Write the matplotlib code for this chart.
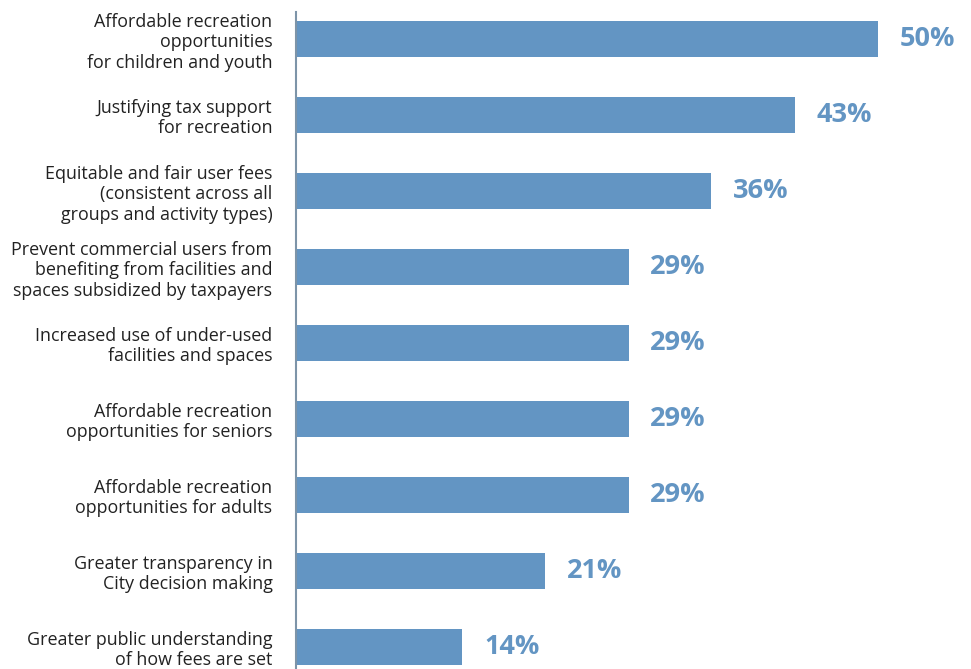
import matplotlib.pyplot as plt

plt.rcParams['font.family'] = ['Open Sans', 'DejaVu Sans']

labels = [
    "Affordable recreation\nopportunities\nfor children and youth",
    "Justifying tax support\nfor recreation",
    "Equitable and fair user fees\n(consistent across all\ngroups and activity types)",
    "Prevent commercial users from\nbenefiting from facilities and\nspaces subsidized by taxpayers",
    "Increased use of under-used\nfacilities and spaces",
    "Affordable recreation\nopportunities for seniors",
    "Affordable recreation\nopportunities for adults",
    "Greater transparency in\nCity decision making",
    "Greater public understanding\nof how fees are set",
]
values = [50.0, 42.9, 35.7, 28.6, 28.6, 28.6, 28.6, 21.4, 14.3]

bar_color = '#6395c3'
W, H = 971, 669

fig = plt.figure(figsize=(W / 100, H / 100), dpi=100)
ax = fig.add_axes([296 / W, 0, 1 - 296 / W, 1 - 12 / H])

pos = list(range(len(values)))
ax.barh(pos, values, height=0.47, color=bar_color)

for y, v in zip(pos, values):
    ax.text(v + 1.85, y, f"{v:.0f}%", va='center', ha='left',
            fontsize=19.5, fontweight='bold', color=bar_color)

ax.set_yticks(pos)
ax.set_yticklabels(labels, fontsize=12.9, color='#222222', linespacing=1.18)
ax.tick_params(axis='y', length=0, pad=17)
ax.set_xticks([])
ax.set_xlim(0, 58)
ax.set_ylim(8.29, -0.355)

for side in ['top', 'right', 'bottom']:
    ax.spines[side].set_visible(False)
ax.spines['left'].set_color('#7d94a8')
ax.spines['left'].set_linewidth(1.5)

fig.savefig('out.png', dpi=100)
